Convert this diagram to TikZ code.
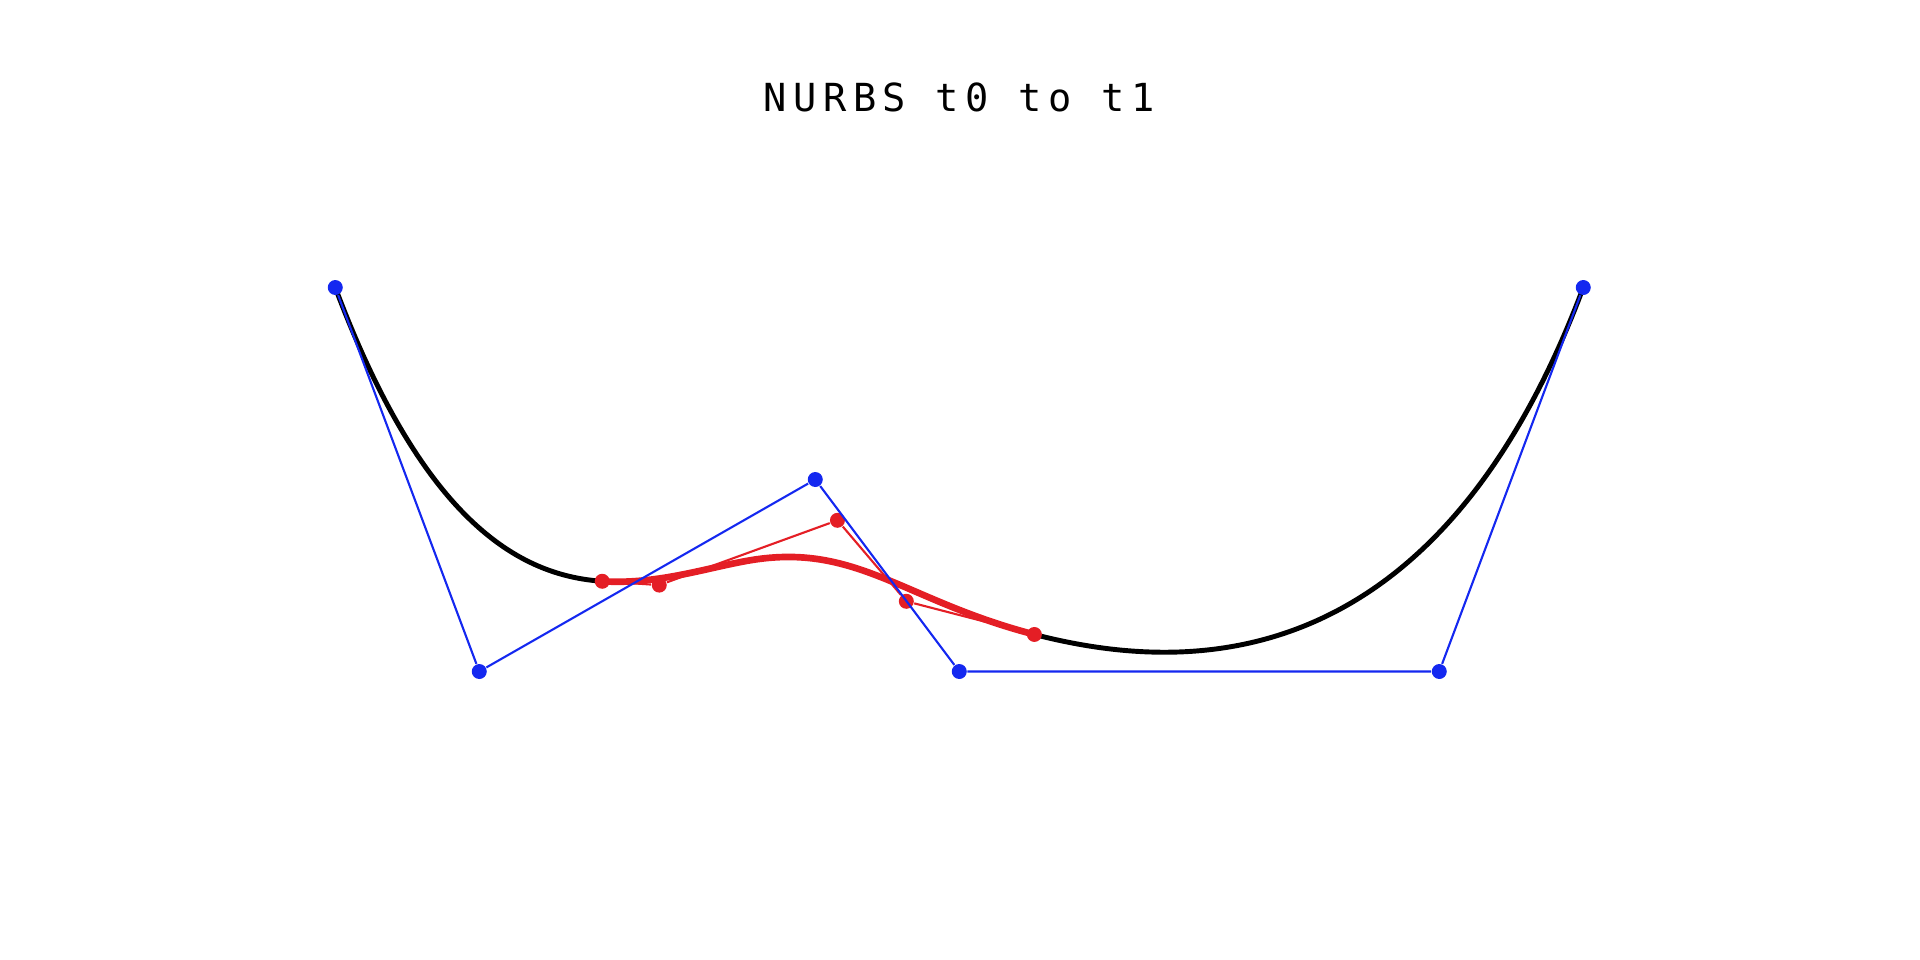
\documentclass[tikz,border=0pt]{standalone}
\usepackage{fontspec}
\usetikzlibrary{calc}
\newfontfamily\titlefont[LetterSpace=17]{DejaVu Sans Mono}
\definecolor{ptblue}{RGB}{20,40,240}
\definecolor{ptred}{RGB}{228,30,37}
\tikzstyle{bdot} = [circle, inner sep=0pt, minimum size=0.15cm, fill=ptblue]
\tikzstyle{rdot} = [circle, inner sep=0pt, minimum size=0.15cm, fill=ptred]
\tikzstyle{hull} = [ptblue, line width=0.6pt]
\tikzstyle{subhull} = [ptred, line width=0.6pt]
\tikzstyle{curve} = [black, line width=1.4pt]
\tikzstyle{subcurve} = [ptred, line width=1.9pt]

\begin{document}
\begin{tikzpicture}
[x=0.48cm, y=0.48cm]
\useasboundingbox (-19.985,-6.01) rectangle (20.015,13.99);
\node (title) at (0,11.66) [anchor=base] {\titlefont\fontsize{11}{13}\selectfont NURBS t0 to t1};

% control points of the cubic, knots 0,0,0,0,1/3,2/3,1,1,1,1
\coordinate (P0) at (-13,8);
\coordinate (P1) at (-10,0);
\coordinate (P2) at (-3,4);
\coordinate (P3) at (0,0);
\coordinate (P4) at (10,0);
\coordinate (P5) at (13,8);
\coordinate (a) at ($(P1)!0.5!(P2)$);
\coordinate (d) at ($(P2)!1/3!(P3)$);
\coordinate (e) at ($(P2)!2/3!(P3)$);
\coordinate (f) at ($(P3)!0.5!(P4)$);
\coordinate (k1) at ($(a)!0.5!(d)$);
\coordinate (k2) at ($(e)!0.5!(f)$);

% sub curve t=0.2 to t=0.65
\coordinate (R0) at (-7.438,1.88);
\coordinate (R1) at (-6.25,1.8);
\coordinate (R2) at (-2.5375,3.15);
\coordinate (R3) at (-1.1031,1.4625);
\coordinate (R4) at (1.5646,0.7714);
\coordinate (s1) at ($(R1)!0.2963!(R2)$);
\coordinate (s2) at ($(R2)!0.2963!(R3)$);

\draw [curve] (P0) .. controls (P1) and (a) .. (k1) .. controls (d) and (e) .. (k2) .. controls (f) and (P4) .. (P5);
\draw [subcurve] (R0) .. controls (R1) and (s1) .. (k1) .. controls (s2) and (R3) .. (R4);

\node (r0) [rdot] at (R0) {};
\node (r1) [rdot] at (R1) {};
\node (r2) [rdot] at (R2) {};
\node (r3) [rdot] at (R3) {};
\node (r4) [rdot] at (R4) {};
\draw [subhull] (r0) -- (r1) -- (r2) -- (r3) -- (r4);

\node (p0) [bdot] at (P0) {};
\node (p1) [bdot] at (P1) {};
\node (p2) [bdot] at (P2) {};
\node (p3) [bdot] at (P3) {};
\node (p4) [bdot] at (P4) {};
\node (p5) [bdot] at (P5) {};
\draw [hull] (p0) -- (p1) -- (p2) -- (p3) -- (p4) -- (p5);

\end{tikzpicture}
\end{document}
